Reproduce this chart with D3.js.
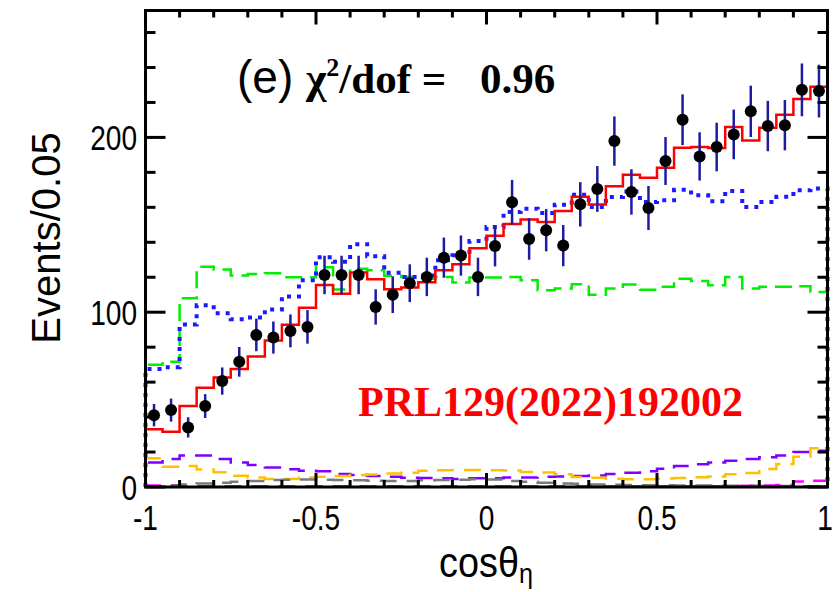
<!DOCTYPE html>
<html><head><meta charset="utf-8">
<script src="https://cdn.jsdelivr.net/npm/d3@7"></script>
<style>html,body{margin:0;padding:0;background:#fff;}svg{display:block;}</style>
</head><body>
<svg id="c" width="834" height="592"></svg>
<script>
// ---- data (40 bins of width 0.05 in cos(theta_eta), from -1 to 1) ----
const binEdgesLow = -1, binWidth = 0.05, nBins = 40;
const dataValues = [41.1,44,34.1,46.3,60.6,71.6,87,85.5,89.3,91.6,121.3,121.3,121.3,103,110,116.6,120.2,131.2,132.4,120.2,
  137.9,162.9,141.9,146.9,138.1,161.7,170.5,197.9,168.8,159.6,186.5,210.1,189.1,194.5,201.7,214.9,206.5,207,227.2,226.5];
const dataErrors = [6.4,6.6,5.8,6.8,7.8,8.5,9.3,9.2,9.4,9.6,11,11,11,10.1,10.5,10.8,11,11.5,11.5,11,
  11.7,12.8,11.9,12.1,11.8,12.7,13.1,14.1,13,12.6,13.7,14.5,13.8,13.9,14.2,14.7,14.4,14.4,15.1,15.1];
const totalFit = [33,31.6,46.3,56.8,62.7,67.5,74.7,83.8,92.8,102.5,115.5,110.5,122.7,118.9,113.1,114.1,117.1,124,127.4,136.6,
  143.7,150.5,153.1,151.6,157.9,166.1,161.6,172,178.6,176.9,182.7,194.1,194.5,193.9,206,198.3,205.5,212.9,222,229];
const greenComp = [70,71.6,108,126,124.4,121,121.8,122.3,120,120,125.7,113,124.9,124,120.8,120.2,119.2,120.2,117,119.8,
  119.8,120.2,118.3,112.6,113.5,116,110,113.5,115.8,112.9,114.5,119.2,117.9,115.4,120.2,113.5,114.5,114.5,114.9,111.6];
const blueComp = [67.5,68.5,93,104,99.4,96,97,101.5,109,118.3,131.5,128.8,138.9,132,122.5,120.2,121,129.7,132.6,140.8,
  148.7,157.3,159.2,156.8,161.5,167.2,160.2,165.9,169,163,164,170,166.9,163.5,169.3,160.2,163,166,169.7,170.7];
const purpleComp = [14,16,18,18,16,14,12.6,11.2,10.1,9.3,9,7.4,6.9,6.3,5.9,5.3,5.2,5,4.6,5,
  5,5.4,5.5,5.8,6,6.3,6.6,7.5,8.2,9,10.5,12,13,14,15,16,17,18,20,20.7];
const orangeComp = [16.4,11.6,12,10,8.5,6.5,5.5,4.6,4.6,5.5,5.8,6.3,6.8,7.2,7.7,8.2,9.3,9.6,9.7,9.7,
  9.6,9.4,8.6,8.3,7.3,5.7,5.3,4.7,4.5,4.4,4.8,5.2,5.6,6,7.3,8,10.3,13.1,17.3,22.1];
const grayComp = [0.5,1,1.5,2,2.5,3,3.5,4,4.2,4.3,4.2,4,3.8,3.6,3.5,3.5,3.8,4,4.2,4.5,
  4.3,3.5,3,2.5,2,1.8,1.5,1.3,1.2,1,1,0.9,0.8,0.8,0.7,0.7,0.6,0.6,0.5,0.5];
const magentaComp = [0.8,0.6,0.5,0.5,0.5,0.5,0.5,0.5,0.5,0.5,0.5,0.5,0.5,0.5,0.5,0.5,0.5,0.5,0.5,0.5,
  0.5,0.5,0.5,0.5,0.5,0.5,0.5,0.5,0.5,0.5,0.5,0.5,0.5,0.5,0.6,0.7,0.9,1.2,3.2,3.6];
const xTickLabels = ["-1","-0.5","0","0.5","1"];
const xTickValues = [-1,-0.5,0,0.5,1];
const yTickValues = [0,100,200];
const xTitle = "cosθ", xTitleSub = "η";
const yTitle = "Events/0.05";
const fitLabel = "(e)", chiLabel = "χ", chiSup = "2", chiRest = "/dof =", chiValue = "0.96";
const refLabel = "PRL129(2022)192002";

// ---- layout ----
const svg = d3.select("#c");
const X0 = 145.5, X1 = 827.5, Y0 = 10.5, Y1 = 487;
const x = d3.scaleLinear().domain([-1, 1]).range([X0, X1]);
const y = d3.scaleLinear().domain([0, 272.6]).range([Y1, Y0]);
const edges = d3.range(nBins + 1).map(i => binEdgesLow + i * binWidth);
const centers = d3.range(nBins).map(i => binEdgesLow + (i + 0.5) * binWidth);

function stepPts(vals) {
  const pts = [[edges[0], 0]];
  vals.forEach((v, i) => { pts.push([edges[i], v]); pts.push([edges[i + 1], v]); });
  pts.push([edges[nBins], 0]);
  return pts;
}
const line = d3.line().x(d => x(d[0])).y(d => y(d[1]));
const plot = svg.append("g");
function hist(vals, color, width, dash) {
  plot.append("path").attr("d", line(stepPts(vals))).attr("fill", "none")
    .attr("stroke", color).attr("stroke-width", width)
    .attr("stroke-dasharray", dash || null).attr("stroke-linejoin", "miter");
}
hist(greenComp, "#00ee00", 2.5, "17,8");
hist(blueComp, "#1a1aff", 4, "4,6");
hist(purpleComp, "#8000ff", 2.5, "17,10");
hist(orangeComp, "#ffc000", 2.5, "17,10");
hist(grayComp, "#7a7a7a", 2.5, "17,10");
hist(magentaComp, "#ff00ff", 2.5, "17,10");
hist(totalFit, "#ff0000", 2.5, null);

// error bars and points
plot.selectAll("line.err").data(centers).enter().append("line")
  .attr("x1", d => x(d)).attr("x2", d => x(d))
  .attr("y1", (d, i) => y(dataValues[i] - dataErrors[i]))
  .attr("y2", (d, i) => y(dataValues[i] + dataErrors[i]))
  .attr("stroke", "#1c1ca0").attr("stroke-width", 2.5);
plot.selectAll("circle.pt").data(centers).enter().append("circle")
  .attr("cx", d => x(d)).attr("cy", (d, i) => y(dataValues[i])).attr("r", 6).attr("fill", "#000");

// ---- frame and axes ----
const ax = svg.append("g").attr("stroke", "#000").attr("stroke-width", 3);
ax.append("rect").attr("x", X0).attr("y", Y0).attr("width", X1 - X0).attr("height", Y1 - Y0).attr("fill", "none");
const xMinor = d3.range(-10, 11).map(i => i / 10);
xMinor.forEach(v => {
  const major = Math.abs(v * 2 - Math.round(v * 2)) < 1e-9;
  const L = major ? 14 : 7;
  ax.append("line").attr("x1", x(v)).attr("x2", x(v)).attr("y1", Y1).attr("y2", Y1 - L);
  ax.append("line").attr("x1", x(v)).attr("x2", x(v)).attr("y1", Y0).attr("y2", Y0 + L);
});
d3.range(0, 272, 20).forEach(v => {
  const major = v % 100 === 0;
  const L = major ? 20 : 10;
  ax.append("line").attr("x1", X0).attr("x2", X0 + L).attr("y1", y(v)).attr("y2", y(v));
  ax.append("line").attr("x1", X1).attr("x2", X1 - L).attr("y1", y(v)).attr("y2", y(v));
});

const SANS = "'Liberation Sans', Arial, Helvetica, sans-serif";
const SERIF = "'Liberation Serif', 'Times New Roman', serif";
const lab = svg.append("g").attr("font-family", SANS).attr("fill", "#000");
function ctext(px, py, sx, anchor, size, str) {
  return lab.append("text").attr("transform", `translate(${px},${py}) scale(${sx},1)`)
    .attr("text-anchor", anchor).attr("font-size", size).text(str);
}
xTickValues.forEach((v, i) => ctext(Math.min(x(v), 825), 530, 0.78, "middle", 36, xTickLabels[i]));
yTickValues.forEach(v => ctext(137, y(v) + 13, 0.78, "end", 36, String(v)));

const xt = lab.append("text").attr("transform", "translate(486,577) scale(0.9,1)")
  .attr("text-anchor", "middle").attr("font-size", 42);
xt.append("tspan").text(xTitle);
xt.append("tspan").attr("dy", 6).attr("font-size", 28).text(xTitleSub);
lab.append("text").attr("transform", "translate(60,238) rotate(-90)").attr("text-anchor", "middle")
  .attr("font-size", 40).text(yTitle);

// annotations
const t = svg.append("text").attr("x", 237).attr("y", 93).attr("fill", "#000");
t.append("tspan").attr("font-family", SANS).attr("font-size", 46).text(fitLabel + " ");
t.append("tspan").attr("font-family", SERIF).attr("font-weight", "bold").attr("font-size", 44).text(chiLabel);
t.append("tspan").attr("font-family", SERIF).attr("font-weight", "bold").attr("font-size", 26).attr("dy", -17).text(chiSup);
t.append("tspan").attr("font-family", SERIF).attr("font-weight", "bold").attr("font-size", 43).attr("dy", 17).text(chiRest);
svg.append("text").attr("x", 480).attr("y", 93).attr("font-family", SERIF)
  .attr("font-weight", "bold").attr("font-size", 43).text(chiValue);
svg.append("text").attr("x", 358).attr("y", 416).attr("font-family", SERIF)
  .attr("font-weight", "bold").attr("font-size", 42).attr("fill", "#ff0000").text(refLabel);
</script>
</body></html>
